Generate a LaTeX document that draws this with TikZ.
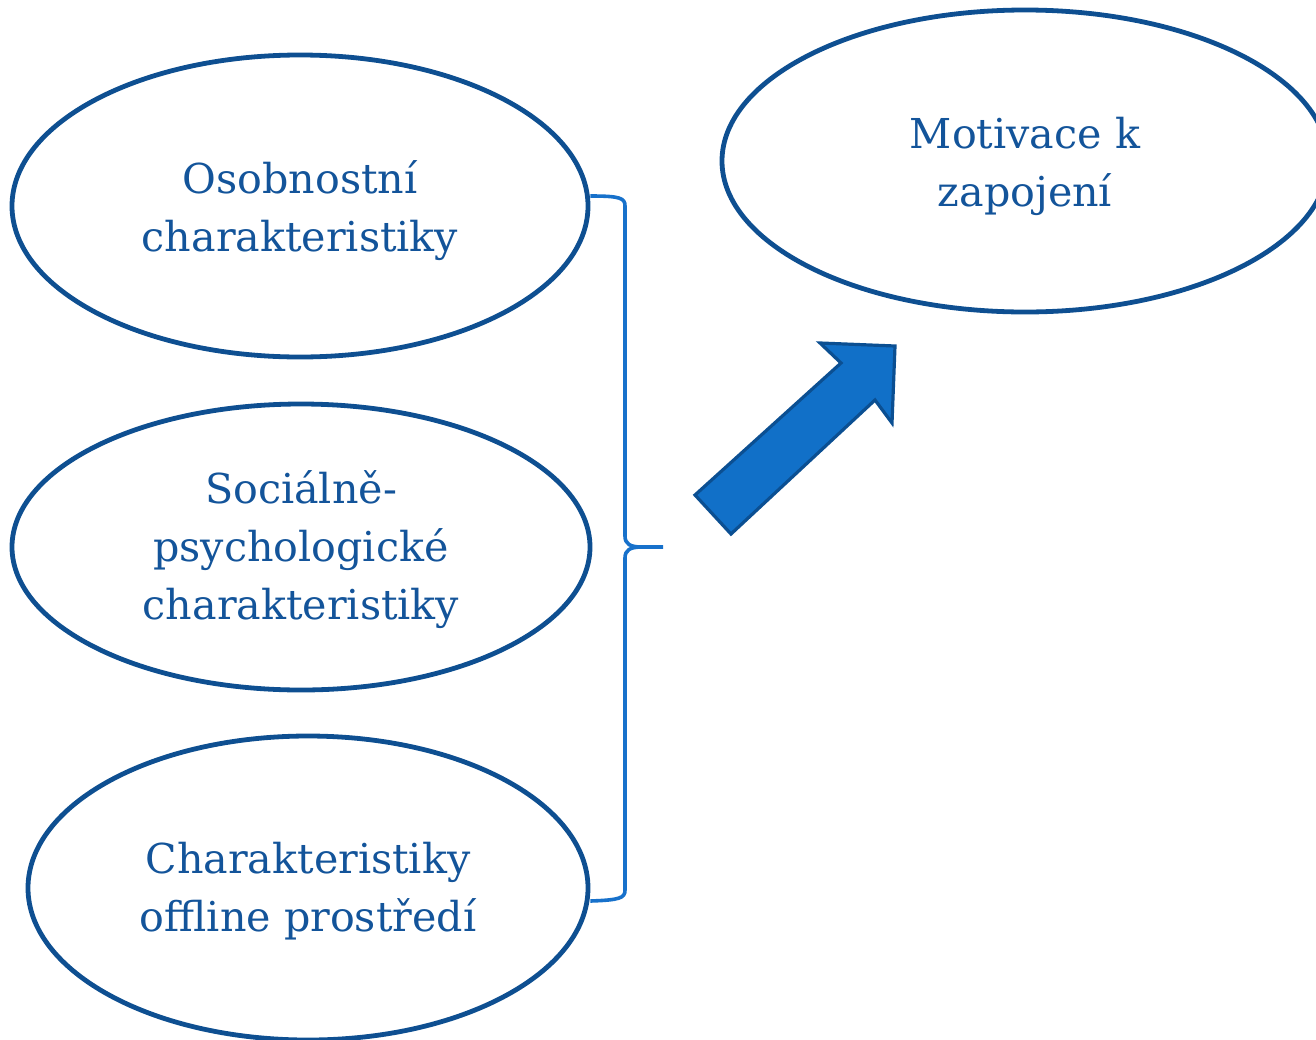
\documentclass[tikz,border=0pt]{standalone}
\usepackage{fontspec}
\setmainfont{DejaVu Serif}
\usetikzlibrary{shapes.geometric}
\definecolor{ellline}{HTML}{0E4F91}
\definecolor{txtcol}{HTML}{13549A}
\definecolor{brace}{HTML}{1771CB}
\definecolor{arrfill}{HTML}{1170C8}
\definecolor{arredge}{HTML}{0B4F92}
\tikzset{
  oval/.style={ellipse, draw=ellline, line width=2.4pt, inner sep=0pt},
  lbl/.style={text=txtcol, align=center, inner sep=0pt, font=\fontsize{20.6}{29}\selectfont},
}
\begin{document}
\begin{tikzpicture}[x=0.5pt,y=-0.5pt]
\useasboundingbox (0,0) rectangle (1316,1039);
\node[oval, minimum width=288pt, minimum height=151pt] (os) at (300,206) {};
\node[oval, minimum width=289pt, minimum height=143pt] (so) at (301,547) {};
\node[oval, minimum width=280pt, minimum height=152pt] (of) at (308,888) {};
\node[oval, minimum width=303pt, minimum height=151pt] (mo) at (1025,161) {};
\node[lbl] (ost) at ([yshift=-2.5pt]os.center) {Osobnostní\\charakteristiky};
\node[lbl] (sot) at ([yshift=-1.5pt]so.center) {Sociálně-\\psychologické\\charakteristiky};
\node[lbl] (oft) at ([yshift=-1.5pt]of.center) {Charakteristiky\\offline prostředí};
\node[lbl] (mot) at ([yshift=-2.5pt]mo.center) {Motivace k\\zapojení};
\coordinate (btip) at (663,547);
\draw[brace, line width=1.8pt, line join=round]
  (os.east |- 0,196) .. controls (620,196) and (625,198) .. (625,206) -- (625,536)
  .. controls (625,544) and (630,547) .. (642,547) -- (btip);
\draw[brace, line width=1.8pt, line join=round]
  (642,547) .. controls (630,547) and (625,550) .. (625,558) -- (625,890)
  .. controls (625,898) and (620,900) .. (of.east |- 0,901);
\draw[fill=arrfill, draw=arredge, line width=1.6pt, line join=miter]
  (695,495) -- (841,363) -- (820,343) -- (895,346) -- (892,423) -- (875,400) -- (731,534) -- cycle;
\end{tikzpicture}
\end{document}
